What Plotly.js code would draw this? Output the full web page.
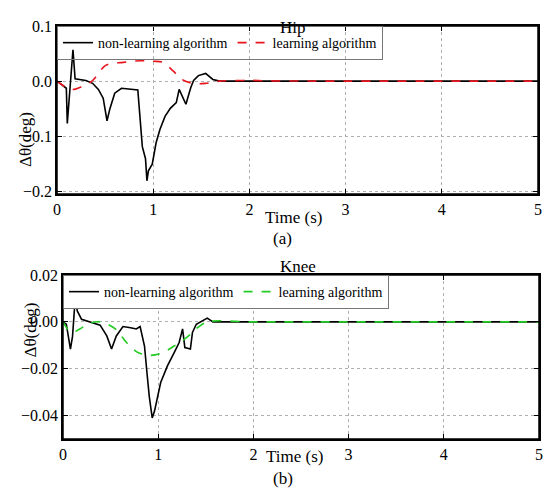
<!DOCTYPE html>
<html><head><meta charset="utf-8">
<script src="https://cdn.plot.ly/plotly-3.0.1.min.js"></script>
<style>html,body{margin:0;padding:0;background:#fff;overflow:hidden}</style>
</head><body>
<div id="chart" style="width:550px;height:501px"></div>
<script>
// Hip – non-learning algorithm
const hipNonX = [0,0.097,0.107,0.166,0.188,0.30,0.37,0.43,0.48,0.52,0.55,0.60,0.67,0.825,0.84,0.887,0.92,0.935,0.95,0.99,1.03,1.07,1.123,1.18,1.24,1.27,1.34,1.39,1.42,1.47,1.545,1.62,1.69,2.0,3.0,4.0,5.0];
const hipNonY = [0,-0.013,-0.077,0.057,0.004,0.001,-0.004,-0.015,-0.031,-0.072,-0.05,-0.022,-0.013,-0.016,-0.016,-0.119,-0.141,-0.181,-0.163,-0.151,-0.112,-0.088,-0.064,-0.049,-0.039,-0.015,-0.042,-0.012,0.001,0.010,0.014,0.003,0.0,0,0,0,0];
// Hip – learning algorithm
const hipLrnX = [0,0.15,0.27,0.37,0.51,0.69,0.86,1.0,1.1,1.21,1.29,1.41,1.55,1.69,1.9,2.0,2.2,3.0,4.0,5.0];
const hipLrnY = [0,-0.015,-0.009,0.001,0.029,0.034,0.037,0.036,0.034,0.018,0.004,-0.004,-0.004,0.0,0.001,0.0015,0.0005,0,0,0];
// Knee – non-learning algorithm
const kneeNonX = [0,0.035,0.078,0.1,0.128,0.15,0.195,0.28,0.39,0.46,0.51,0.56,0.63,0.71,0.77,0.81,0.856,0.885,0.906,0.937,0.962,1.026,1.097,1.168,1.22,1.256,1.28,1.338,1.36,1.40,1.515,1.575,2.0,3.0,4.0,5.0];
const kneeNonY = [0,-0.001,-0.0116,-0.0062,0.010,0.0047,0.0011,0.0,-0.0014,-0.006,-0.0116,-0.006,-0.002,-0.0025,-0.003,-0.002,-0.0103,-0.023,-0.0318,-0.041,-0.038,-0.0259,-0.0188,-0.0131,-0.0088,-0.003,-0.011,-0.0116,-0.0045,-0.001,0.0016,0.0,0,0,0,0];
// Knee – learning algorithm
const kneeLrnX = [0,0.088,0.177,0.28,0.39,0.55,0.67,0.78,0.9,1.026,1.168,1.31,1.415,1.52,2.0,3.0,4.0,5.0];
const kneeLrnY = [0,-0.0045,-0.003,-0.0006,0,-0.003,-0.0089,-0.0129,-0.0143,-0.0135,-0.0103,-0.0063,-0.0024,0,0,0,0,0];

const seriesNames = ['non-learning algorithm','learning algorithm'];
const xTicks = [0,1,2,3,4,5];
const hipYTicks = [-0.2,-0.1,0,0.1];
const kneeYTicks = [-0.04,-0.02,0,0.02];

const FONT = 'Liberation Serif';

const traces = [
  {x: hipNonX, y: hipNonY, name: seriesNames[0], mode:'lines', line:{color:'#000', width:1.6}, xaxis:'x', yaxis:'y', legend:'legend'},
  {x: hipLrnX, y: hipLrnY, name: seriesNames[1], mode:'lines', line:{color:'#e8141e', width:1.6, dash:'dash', shape:'spline'}, xaxis:'x', yaxis:'y', legend:'legend'},
  {x: kneeNonX, y: kneeNonY, name: seriesNames[0], mode:'lines', line:{color:'#000', width:1.6}, xaxis:'x2', yaxis:'y2', legend:'legend2'},
  {x: kneeLrnX, y: kneeLrnY, name: seriesNames[1], mode:'lines', line:{color:'#22cc22', width:1.6, dash:'dash', shape:'spline'}, xaxis:'x2', yaxis:'y2', legend:'legend2'}
];

function ax(extra) {
  return Object.assign({
    showline:true, linecolor:'#000', linewidth:1.5, mirror:'ticks',
    ticks:'inside', ticklen:5, tickcolor:'#000', tickwidth:1,
    showgrid:true, gridcolor:'#b0b0b0', griddash:'dot', gridwidth:1,
    zeroline:false, tickfont:{family:FONT, size:16, color:'#000'}
  }, extra);
}

const HX0 = 57/550, HX1 = 538/550, HY0 = 0.6128, HY1 = 0.948;
const KX0 = 63/550, KX1 = 539/550, KY0 = 0.1238, KY1 = 0.451;

const layout = {
  width:550, height:501,
  margin:{l:0,r:0,t:0,b:0},
  paper_bgcolor:'#fff', plot_bgcolor:'#fff',
  showlegend:true,
  font:{family:FONT, color:'#000'},
  xaxis: ax({domain:[HX0,HX1], range:[0,5], tickvals:xTicks, anchor:'y'}),
  yaxis: ax({domain:[HY0,HY1], range:[-0.205,0.1], tickvals:hipYTicks, tickformat:'.1f', anchor:'x'}),
  xaxis2: ax({domain:[KX0,KX1], range:[0,5], tickvals:xTicks, anchor:'y2'}),
  yaxis2: ax({domain:[KY0,KY1], range:[-0.05,0.02], tickvals:kneeYTicks, tickformat:'.2f', anchor:'x2'}),
  legend: {orientation:'h', x:HX0, y:HY1, xanchor:'left', yanchor:'top', bgcolor:'rgba(255,255,255,0)', bordercolor:'#777', borderwidth:1, font:{family:FONT, size:14, color:'#000'}, itemwidth:30, tracegroupgap:0},
  legend2: {orientation:'h', x:KX0, y:KY1, xanchor:'left', yanchor:'top', bgcolor:'#fff', bordercolor:'#777', borderwidth:1, font:{family:FONT, size:14, color:'#000'}, itemwidth:30, tracegroupgap:0},
  shapes: [
    {type:'rect', xref:'paper', yref:'paper', x0:HX0, x1:HX1, y0:HY0, y1:HY1, line:{color:'#000', width:1.5}, fillcolor:'rgba(0,0,0,0)', layer:'above'},
    {type:'rect', xref:'paper', yref:'paper', x0:KX0, x1:KX1, y0:KY0, y1:KY1, line:{color:'#000', width:1.5}, fillcolor:'rgba(0,0,0,0)', layer:'above'}
  ],
  annotations: [
    {text:'Hip', xref:'paper', yref:'paper', x:293/550, y:1-16/501, showarrow:false, font:{family:FONT,size:17}},
    {text:'Time (s)', xref:'paper', yref:'paper', x:293/550, y:1-218/501, showarrow:false, font:{family:FONT,size:17}},
    {text:'(a)', xref:'paper', yref:'paper', x:282/550, y:1-238/501, showarrow:false, font:{family:FONT,size:17}},
    {text:'Δθ(deg)', xref:'paper', yref:'paper', x:14/550, y:1-110/501, textangle:-90, showarrow:false, font:{family:FONT,size:17}},
    {text:'Knee', xref:'paper', yref:'paper', x:298/550, y:1-266/501, showarrow:false, font:{family:FONT,size:17}},
    {text:'Time (s)', xref:'paper', yref:'paper', x:294/550, y:1-468/501, showarrow:false, font:{family:FONT,size:17}},
    {text:'(b)', xref:'paper', yref:'paper', x:283/550, y:1-490/501, showarrow:false, font:{family:FONT,size:17}},
    {text:'Δθ(deg)', xref:'paper', yref:'paper', x:18/550, y:1-330/501, textangle:-90, showarrow:false, font:{family:FONT,size:17}}
  ]
};

Plotly.newPlot('chart', traces, layout, {displayModeBar:false});
</script>
</body></html>
